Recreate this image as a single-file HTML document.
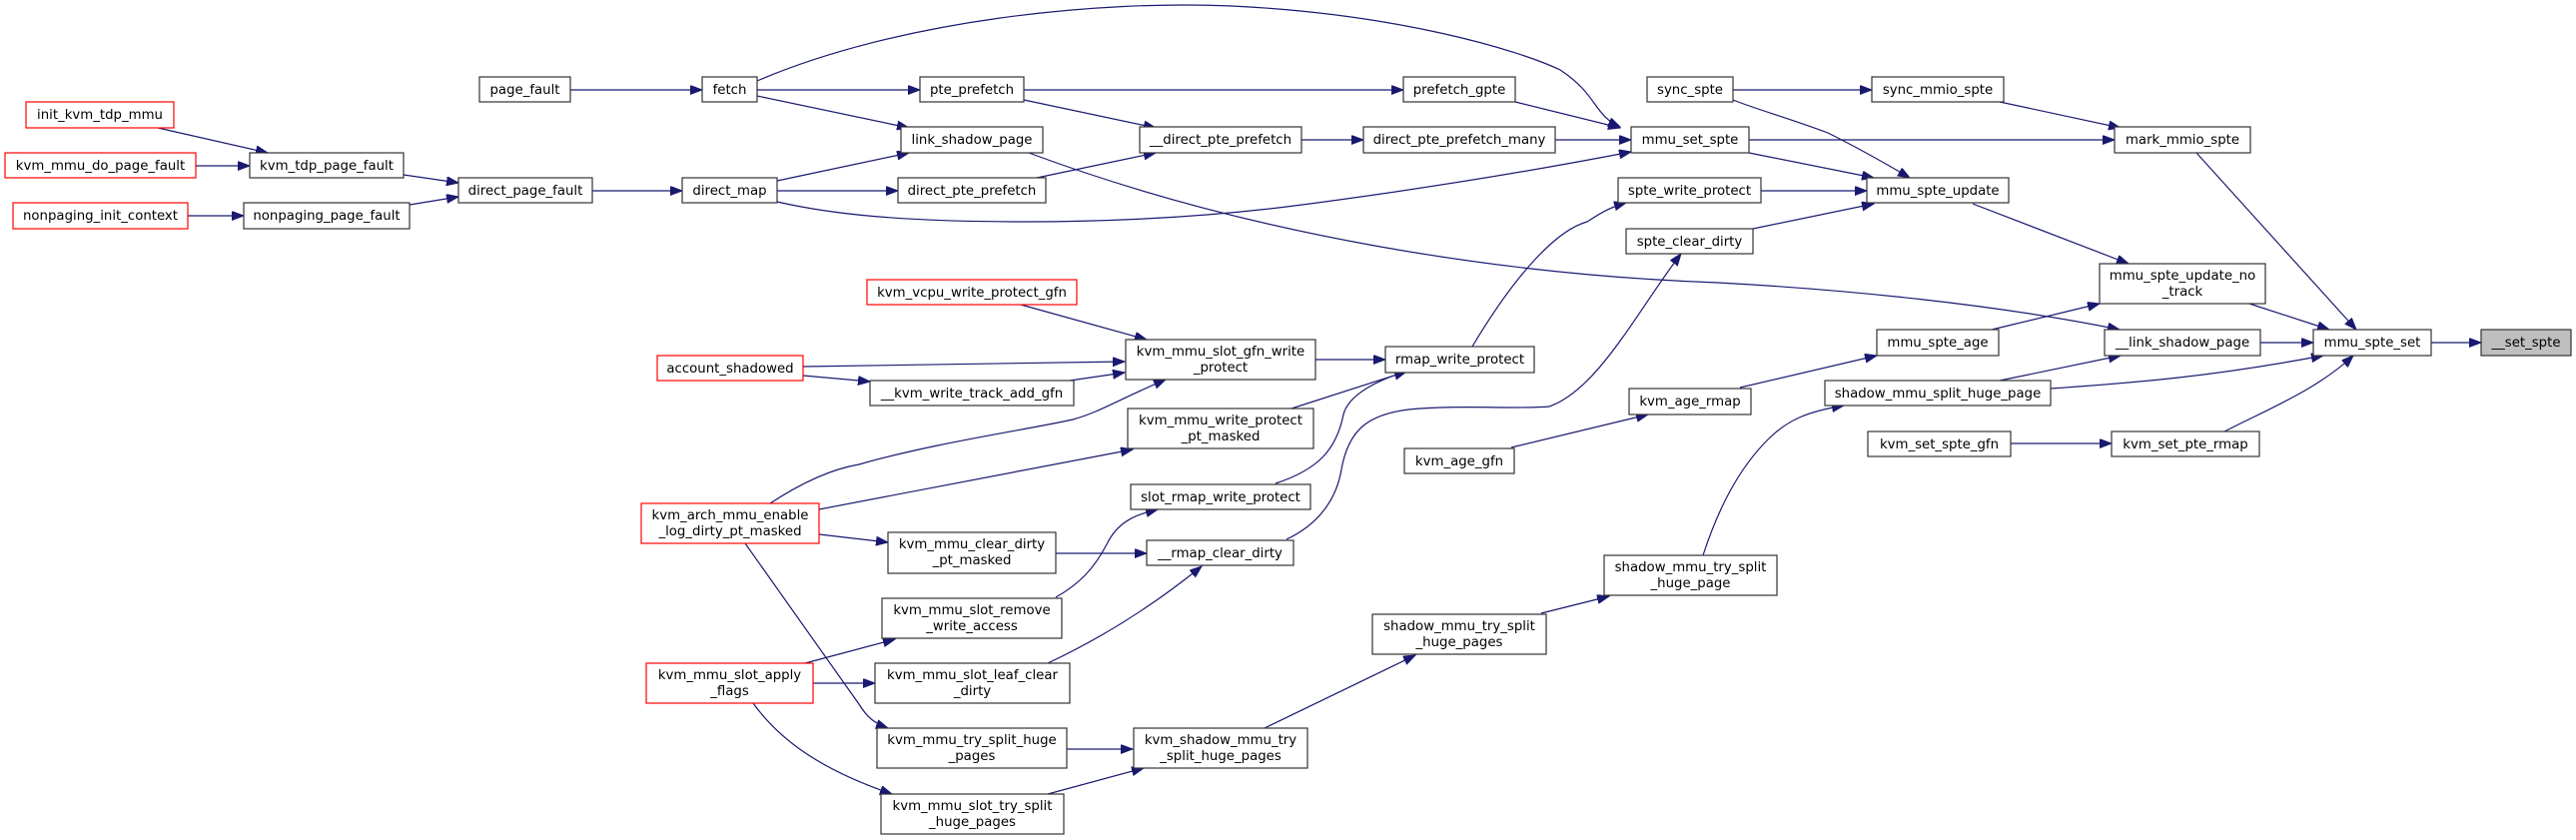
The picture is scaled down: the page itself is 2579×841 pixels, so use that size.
<!DOCTYPE html>
<html><head><meta charset="utf-8"><style>
html,body{margin:0;padding:0;background:#fff;}
svg{display:block;}
text{font-family:"DejaVu Sans","Liberation Sans",sans-serif;font-size:13.3px;fill:#000;text-anchor:middle;}
.n{fill:#fff;stroke:#333;stroke-width:1.2;}
.r{fill:#fff;stroke:#ff0000;stroke-width:1.2;}
.g{fill:#bfbfbf;stroke:#333;stroke-width:1.2;}
.e{fill:none;stroke:#191970;stroke-width:1.2;marker-end:url(#a);}
</style></head><body>
<svg width="2579" height="841" viewBox="0 0 2579 841" xmlns="http://www.w3.org/2000/svg">
<defs><marker id="a" markerUnits="userSpaceOnUse" markerWidth="13" markerHeight="10" refX="12" refY="4.5" orient="auto"><path d="M0,0 L12,4.5 L0,9 z" fill="#191970" stroke="#191970"/></marker></defs>

<!-- edges -->
<path class="e" d="M571,90 L703,90"/>
<path class="e" d="M158,128 L268,153"/>
<path class="e" d="M196,166 L250,166"/>
<path class="e" d="M188,216 L244,216"/>
<path class="e" d="M404,175 L459,183"/>
<path class="e" d="M410,205 L459,197"/>
<path class="e" d="M593,191 L683,191"/>
<path class="e" d="M758,81 C900,20 1100,0 1233,6 C1400,14 1520,50 1562,70 C1600,95 1595,115 1622,127"/>
<path class="e" d="M758,90 L921,90"/>
<path class="e" d="M758,96 L910,128"/>
<path class="e" d="M1025,90 L1405,90"/>
<path class="e" d="M1025,100 L1157,128"/>
<path class="e" d="M1517,102 L1622,128"/>
<path class="e" d="M1303,140 L1365,140"/>
<path class="e" d="M1557,140 L1633,140"/>
<path class="e" d="M778,181 L910,153"/>
<path class="e" d="M778,191 L899,191"/>
<path class="e" d="M778,202 C830,214 900,222 1025,222 C1140,222 1230,214 1288,207 C1420,190 1540,170 1633,152"/>
<path class="e" d="M1030,153 C1250,235 1500,275 1720,283 C1850,290 2000,305 2122,330"/>
<path class="e" d="M1038,178 L1157,153"/>
<path class="e" d="M1751,153 L1876,178"/>
<path class="e" d="M1751,140 L2117,140"/>
<path class="e" d="M1735,90 L1874,90"/>
<path class="e" d="M1735,100 C1760,110 1790,118 1830,133 C1860,148 1890,165 1912,178"/>
<path class="e" d="M2002,102 L2123,128"/>
<path class="e" d="M1763,191 L1869,191"/>
<path class="e" d="M1755,229 L1876,204"/>
<path class="e" d="M2199,153 L2359,330"/>
<path class="e" d="M1975,204 L2131,264"/>
<path class="e" d="M2252,304 L2332,330"/>
<path class="e" d="M1994,330 L2102,304"/>
<path class="e" d="M2263,343 L2316,343"/>
<path class="e" d="M2434,343 L2484,343"/>
<path class="e" d="M2002,381 L2123,356"/>
<path class="e" d="M2053,389 C2140,383 2214,377 2326,356"/>
<path class="e" d="M2227,432 C2270,410 2320,390 2356,356"/>
<path class="e" d="M2013,444 L2114,444"/>
<path class="e" d="M1742,388 L1879,356"/>
<path class="e" d="M1513,448 L1650,415"/>
<path class="e" d="M1705,556 C1720,510 1740,470 1770,440 C1790,420 1810,412 1846,406"/>
<path class="e" d="M1543,614 L1611,597"/>
<path class="e" d="M1266,729 L1417,656"/>
<path class="e" d="M1068,750 L1134,750"/>
<path class="e" d="M1049,795 L1145,769"/>
<path class="e" d="M1057,554 L1148,554"/>
<path class="e" d="M1057,598 C1080,585 1095,570 1108,545 C1120,520 1140,515 1159,510"/>
<path class="e" d="M1049,664 C1100,640 1150,610 1203,567"/>
<path class="e" d="M1277,484 C1320,470 1338,450 1345,415 C1350,395 1380,380 1408,372"/>
<path class="e" d="M1288,540 C1320,525 1338,500 1343,470 C1350,430 1370,415 1410,410 C1460,405 1520,410 1551,407 C1600,390 1640,310 1683,254"/>
<path class="e" d="M1474,347 C1520,270 1560,230 1589,222 C1600,215 1610,208 1628,203"/>
<path class="e" d="M1293,409 L1408,372"/>
<path class="e" d="M1317,360 L1387,360"/>
<path class="e" d="M1022,305 L1148,340"/>
<path class="e" d="M804,367 L1126,362"/>
<path class="e" d="M804,376 L871,382"/>
<path class="e" d="M1071,381 L1126,373"/>
<path class="e" d="M771,504 C800,485 830,470 860,465 C937,443 1030,430 1074,420 C1100,413 1120,400 1167,380"/>
<path class="e" d="M820,510 L1134,450"/>
<path class="e" d="M820,535 L889,543"/>
<path class="e" d="M746,544 L860,705 C868,718 875,724 889,729"/>
<path class="e" d="M806,664 L896,640"/>
<path class="e" d="M814,684 L876,684"/>
<path class="e" d="M754,704 C780,740 820,770 893,795"/>

<!-- nodes -->
<rect class="n" x="480" y="77" width="91" height="25"/><text x="525.5" y="94">page_fault</text>
<rect class="n" x="703" y="77" width="55" height="25"/><text x="730.5" y="94">fetch</text>
<rect class="r" x="26" y="102" width="148" height="26"/><text x="100" y="119">init_kvm_tdp_mmu</text>
<rect class="r" x="5" y="153" width="191" height="25"/><text x="100.5" y="170">kvm_mmu_do_page_fault</text>
<rect class="n" x="250" y="153" width="154" height="25"/><text x="327" y="170">kvm_tdp_page_fault</text>
<rect class="r" x="13" y="203" width="175" height="26"/><text x="100.5" y="220">nonpaging_init_context</text>
<rect class="n" x="244" y="203" width="166" height="26"/><text x="327" y="220">nonpaging_page_fault</text>
<rect class="n" x="459" y="178" width="134" height="25"/><text x="526" y="195">direct_page_fault</text>
<rect class="n" x="683" y="178" width="95" height="25"/><text x="730.5" y="195">direct_map</text>
<rect class="r" x="658" y="356" width="146" height="25"/><text x="731" y="373">account_shadowed</text>
<rect class="r" x="642" y="504" width="178" height="40"/><text x="731" y="520">kvm_arch_mmu_enable</text><text x="731" y="536">_log_dirty_pt_masked</text>
<rect class="r" x="647" y="664" width="167" height="40"/><text x="730.5" y="680">kvm_mmu_slot_apply</text><text x="730.5" y="696">_flags</text>

<rect class="n" x="921" y="77" width="104" height="25"/><text x="973" y="94">pte_prefetch</text>
<rect class="n" x="1405" y="77" width="112" height="25"/><text x="1461" y="94">prefetch_gpte</text>
<rect class="n" x="1649" y="77" width="86" height="25"/><text x="1692" y="94">sync_spte</text>
<rect class="n" x="902" y="127" width="142" height="26"/><text x="973" y="144">link_shadow_page</text>
<rect class="n" x="1141" y="127" width="162" height="26"/><text x="1222" y="144">__direct_pte_prefetch</text>
<rect class="n" x="1365" y="127" width="192" height="26"/><text x="1461" y="144">direct_pte_prefetch_many</text>
<rect class="n" x="1633" y="127" width="118" height="26"/><text x="1692" y="144">mmu_set_spte</text>
<rect class="n" x="899" y="178" width="148" height="25"/><text x="973" y="195">direct_pte_prefetch</text>
<rect class="n" x="1620" y="178" width="143" height="25"/><text x="1691.5" y="195">spte_write_protect</text>
<rect class="n" x="1628" y="229" width="127" height="25"/><text x="1691.5" y="246">spte_clear_dirty</text>
<rect class="r" x="868" y="280" width="210" height="25"/><text x="973" y="297">kvm_vcpu_write_protect_gfn</text>
<rect class="n" x="1127" y="340" width="190" height="40"/><text x="1222" y="356">kvm_mmu_slot_gfn_write</text><text x="1222" y="372">_protect</text>
<rect class="n" x="871" y="381" width="204" height="25"/><text x="973" y="398">__kvm_write_track_add_gfn</text>
<rect class="n" x="1387" y="347" width="149" height="26"/><text x="1461.5" y="364">rmap_write_protect</text>
<rect class="n" x="1631" y="389" width="122" height="26"/><text x="1692" y="406">kvm_age_rmap</text>
<rect class="n" x="1129" y="409" width="186" height="40"/><text x="1222" y="425">kvm_mmu_write_protect</text><text x="1222" y="441">_pt_masked</text>
<rect class="n" x="1406" y="449" width="110" height="25"/><text x="1461" y="466">kvm_age_gfn</text>
<rect class="n" x="1132" y="485" width="180" height="25"/><text x="1222" y="502">slot_rmap_write_protect</text>
<rect class="n" x="889" y="533" width="168" height="41"/><text x="973" y="549">kvm_mmu_clear_dirty</text><text x="973" y="565">_pt_masked</text>
<rect class="n" x="1148" y="541" width="147" height="25"/><text x="1221.5" y="558">__rmap_clear_dirty</text>
<rect class="n" x="1606" y="556" width="173" height="40"/><text x="1692.5" y="572">shadow_mmu_try_split</text><text x="1692.5" y="588">_huge_page</text>
<rect class="n" x="883" y="599" width="180" height="40"/><text x="973" y="615">kvm_mmu_slot_remove</text><text x="973" y="631">_write_access</text>
<rect class="n" x="1374" y="615" width="174" height="40"/><text x="1461" y="631">shadow_mmu_try_split</text><text x="1461" y="647">_huge_pages</text>
<rect class="n" x="876" y="664" width="195" height="40"/><text x="973.5" y="680">kvm_mmu_slot_leaf_clear</text><text x="973.5" y="696">_dirty</text>
<rect class="n" x="878" y="729" width="190" height="40"/><text x="973" y="745">kvm_mmu_try_split_huge</text><text x="973" y="761">_pages</text>
<rect class="n" x="1135" y="729" width="174" height="40"/><text x="1222" y="745">kvm_shadow_mmu_try</text><text x="1222" y="761">_split_huge_pages</text>
<rect class="n" x="882" y="795" width="183" height="40"/><text x="973.5" y="811">kvm_mmu_slot_try_split</text><text x="973.5" y="827">_huge_pages</text>

<rect class="n" x="1874" y="77" width="132" height="25"/><text x="1940" y="94">sync_mmio_spte</text>
<rect class="n" x="2117" y="127" width="136" height="26"/><text x="2185" y="144">mark_mmio_spte</text>
<rect class="n" x="1869" y="178" width="142" height="25"/><text x="1940" y="195">mmu_spte_update</text>
<rect class="n" x="2102" y="264" width="166" height="40"/><text x="2185" y="280">mmu_spte_update_no</text><text x="2185" y="296">_track</text>
<rect class="n" x="1879" y="330" width="122" height="26"/><text x="1940" y="347">mmu_spte_age</text>
<rect class="n" x="2107" y="330" width="156" height="26"/><text x="2185" y="347">__link_shadow_page</text>
<rect class="n" x="2316" y="330" width="118" height="26"/><text x="2375" y="347">mmu_spte_set</text>
<rect class="g" x="2484" y="330" width="90" height="26"/><text x="2529" y="347">__set_spte</text>
<rect class="n" x="1827" y="381" width="226" height="25"/><text x="1940" y="398">shadow_mmu_split_huge_page</text>
<rect class="n" x="1870" y="432" width="143" height="25"/><text x="1941.5" y="449">kvm_set_spte_gfn</text>
<rect class="n" x="2114" y="432" width="148" height="25"/><text x="2188" y="449">kvm_set_pte_rmap</text>
</svg>
</body></html>
